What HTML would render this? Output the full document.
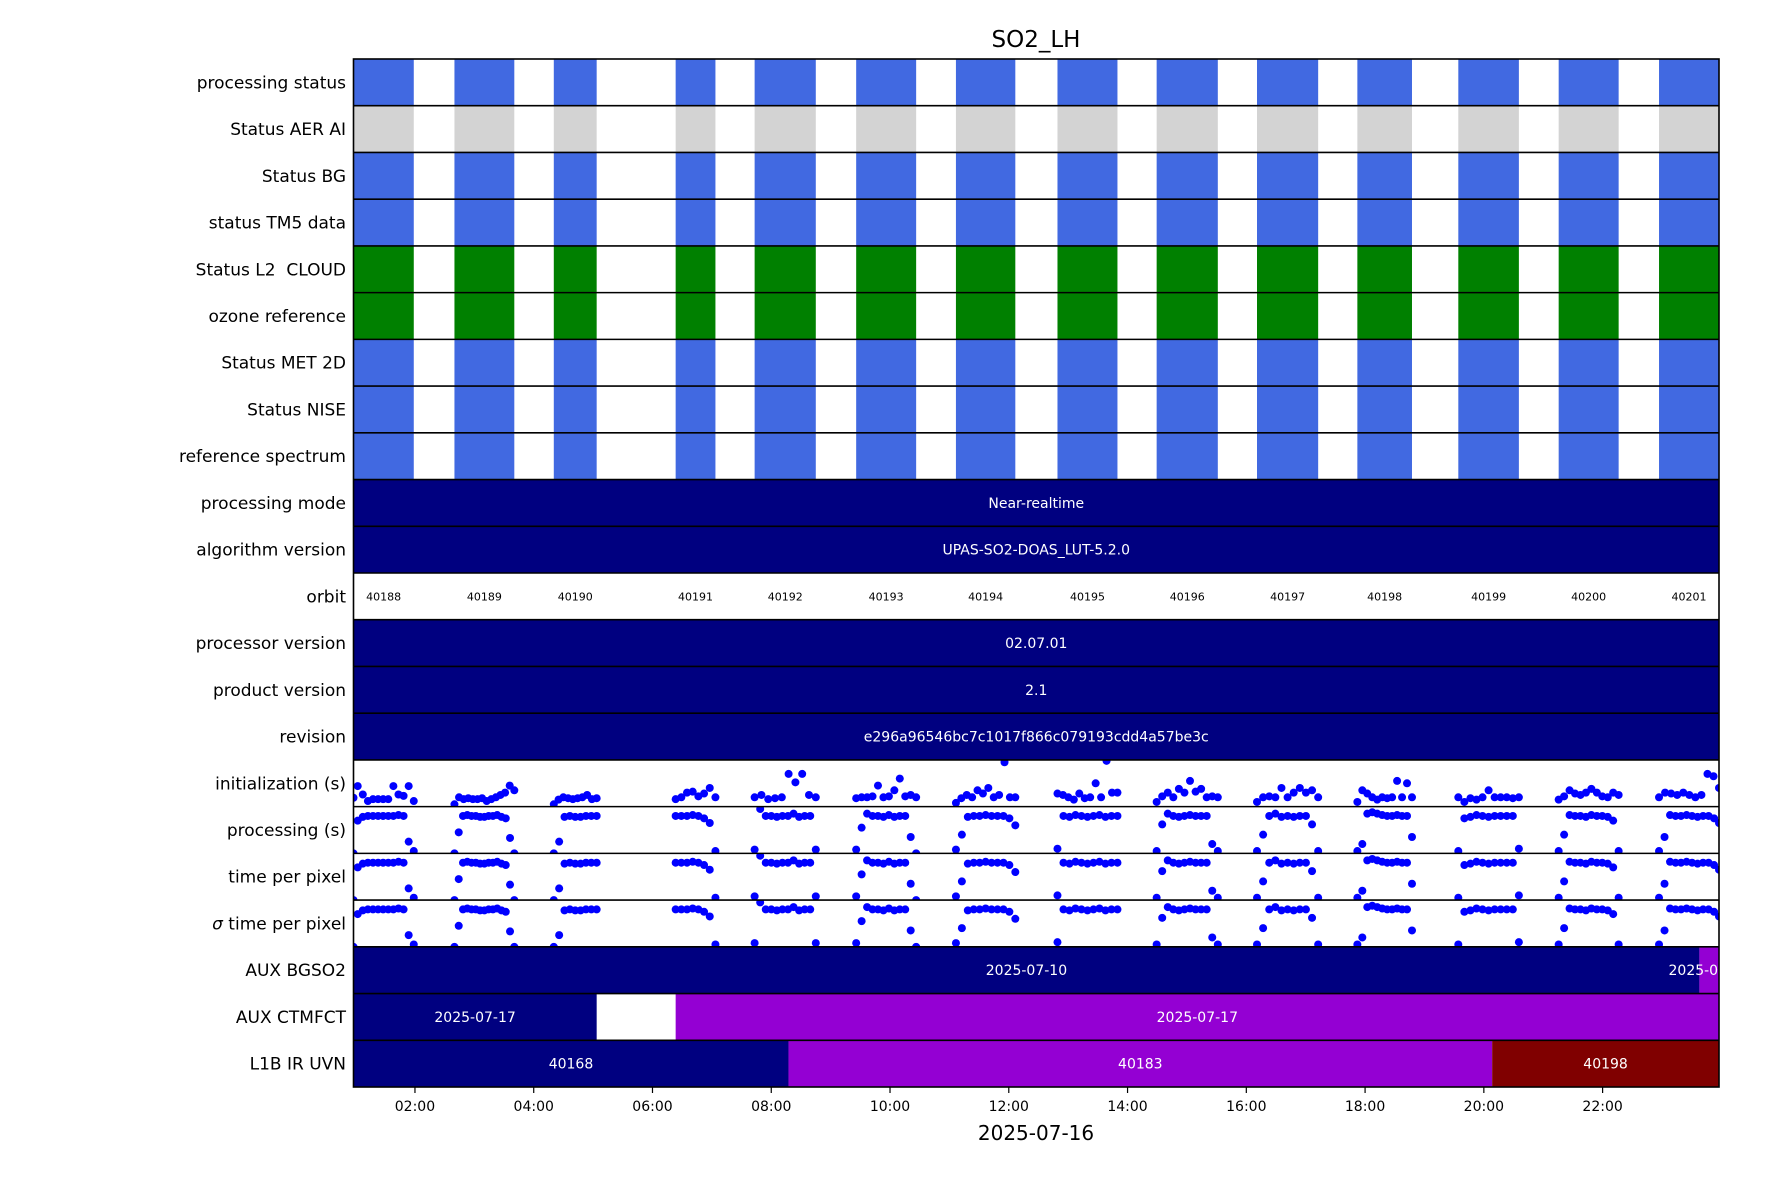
<!DOCTYPE html>
<html><head><meta charset="utf-8"><style>
body{margin:0;background:#fff}
svg{display:block;font-family:"DejaVu Sans","Liberation Sans",sans-serif}
text{white-space:pre}
</style></head><body>
<svg id="chart" width="1771" height="1181" xmlns="http://www.w3.org/2000/svg"></svg>
<script>
const rowLabels=["processing status","Status AER AI","Status BG","status TM5 data","Status L2  CLOUD","ozone reference","Status MET 2D","Status NISE","reference spectrum","processing mode","algorithm version","orbit","processor version","product version","revision","initialization (s)","processing (s)","time per pixel","σ time per pixel","AUX BGSO2","AUX CTMFCT","L1B IR UVN"];
const orbits=["40188","40189","40190","40191","40192","40193","40194","40195","40196","40197","40198","40199","40200","40201"];
const orbitStart=[0.95,2.665,4.338,6.39,7.72,9.43,11.11,12.82,14.49,16.18,17.87,19.57,21.26,22.95];
const orbitEnd=[1.98,3.673,5.06,7.06,8.75,10.44,12.11,13.83,15.52,17.21,18.79,20.59,22.27,23.97];
const statusColors=["#4169e1","#d3d3d3","#4169e1","#4169e1","#008000","#008000","#4169e1","#4169e1","#4169e1"];
const textRows=[[9,"Near-realtime"],[10,"UPAS-SO2-DOAS_LUT-5.2.0"],[12,"02.07.01"],[13,"2.1"],[14,"e296a96546bc7c1017f866c079193cdd4a57be3c"]];
const bgso2Start=[0.965,23.63];const bgso2End=[23.63,23.97];const bgso2Labels=["2025-07-10","2025-07-17"];const bgso2Colors=["#000080","#9400d3"];
const ctmStart=[0.965,6.39];const ctmEnd=[5.06,23.97];const ctmLabels=["2025-07-17","2025-07-17"];const ctmColors=["#000080","#9400d3"];
const l1bStart=[0.965,8.29,20.14];const l1bEnd=[8.29,20.14,23.97];const l1bLabels=["40168","40183","40198"];const l1bColors=["#000080","#9400d3","#800000"];
const initVals=[
[0.19,0.44,0.26,0.12,0.16,0.16,0.16,0.16,0.44,0.26,0.23,0.44,0.12],
[0.05,0.2,0.16,0.18,0.16,0.16,0.18,0.12,0.16,0.2,0.25,0.3,0.45,0.35],
[0.05,0.15,0.2,0.18,0.16,0.18,0.2,0.25,0.16,0.18],
[0.16,0.2,0.3,0.32,0.22,0.28,0.4,0.2],
[0.2,0.25,0.16,0.18,0.2,0.7,0.52,0.7,0.25,0.2],
[0.18,0.2,0.2,0.22,0.45,0.2,0.22,0.35,0.6,0.22,0.25,0.2],
[0.08,0.18,0.25,0.2,0.35,0.28,0.4,0.2,0.25,0.95,0.2,0.2],
[0.28,0.25,0.2,0.15,0.28,0.18,0.2,0.5,0.2,0.98,0.3,0.3],
[0.1,0.22,0.3,0.2,0.38,0.3,0.55,0.32,0.38,0.2,0.22,0.2],
[0.1,0.2,0.22,0.2,0.4,0.2,0.3,0.4,0.3,0.35,0.2],
[0.1,0.35,0.28,0.2,0.15,0.2,0.18,0.2,0.55,0.2,0.5,0.2],
[0.2,0.1,0.18,0.15,0.2,0.35,0.2,0.2,0.2,0.18,0.2],
[0.15,0.22,0.35,0.28,0.25,0.3,0.38,0.3,0.22,0.2,0.3,0.25],
[0.2,0.3,0.28,0.25,0.3,0.25,0.2,0.25,0.7,0.65,0.4]];
const procVals=[
[0,0.7,0.78,0.8,0.8,0.8,0.8,0.8,0.8,0.82,0.8,0.25,0.05],
[0,0.45,0.8,0.82,0.8,0.8,0.78,0.78,0.8,0.8,0.82,0.78,0.75,0.33,0],
[0,0.25,0.78,0.8,0.78,0.78,0.8,0.8,0.8],
[0.8,0.8,0.8,0.82,0.8,0.75,0.65,0.05],
[0.08,0.95,0.8,0.8,0.78,0.8,0.8,0.85,0.78,0.8,0.8,0.08],
[0.08,0.55,0.85,0.8,0.8,0.78,0.82,0.78,0.8,0.8,0.35,0],
[0.08,0.4,0.78,0.8,0.8,0.82,0.8,0.8,0.8,0.75,0.6],
[0.1,0.8,0.78,0.82,0.8,0.78,0.8,0.82,0.78,0.8,0.8],
[0.05,0.62,0.85,0.8,0.78,0.8,0.82,0.8,0.8,0.8,0.2,0.05],
[0.05,0.4,0.8,0.85,0.78,0.8,0.78,0.8,0.8,0.62,0.05],
[0.05,0.2,0.85,0.88,0.85,0.82,0.8,0.8,0.82,0.8,0.8,0.35],
[0.05,0.75,0.78,0.82,0.8,0.78,0.8,0.8,0.8,0.8,0.1],
[0.05,0.4,0.82,0.8,0.8,0.78,0.82,0.8,0.8,0.78,0.7,0.05],
[0.05,0.35,0.82,0.8,0.8,0.82,0.8,0.78,0.8,0.8,0.75,0.65]];
const tickHours=[2,4,6,8,10,12,14,16,18,20,22];
const tickLabels=["02:00","04:00","06:00","08:00","10:00","12:00","14:00","16:00","18:00","20:00","22:00"];

const L=353.5,R=1719,T=59,B=1087,NR=22,RH=(B-T)/NR,H0=0.965,H1=23.96;
const NS="http://www.w3.org/2000/svg",svg=document.getElementById('chart');
function x(h){return L+(Math.min(Math.max(h,H0),H1)-H0)/(H1-H0)*(R-L);}
function rowY(i){return T+i*RH;}
function el(t,a,p){const e=document.createElementNS(NS,t);for(const k in a)e.setAttribute(k,a[k]);(p||svg).appendChild(e);return e;}
function txt(s,a,p){const e=el('text',a,p);e.textContent=s;return e;}

const title=txt("SO2_LH",{x:1036,y:47,'text-anchor':'middle','font-size':23,fill:'#000'});



statusColors.forEach((c,r)=>{
  orbits.forEach((o,i)=>{
    const b=el('rect',{x:x(orbitStart[i]),y:rowY(r),width:x(orbitEnd[i])-x(orbitStart[i]),height:RH,fill:c});
    
    
  });
});
textRows.forEach(([r,s])=>{
  const b=el('rect',{x:L,y:rowY(r),width:R-L,height:RH,fill:'#000080'});
  
  
  const t=txt(s,{x:(L+R)/2,y:rowY(r)+RH/2+5,'text-anchor':'middle','font-size':14,fill:'#fff'});
  
  
});
orbits.forEach((o,i)=>{
  const t=txt(o,{x:(x(orbitStart[i])+x(orbitEnd[i]))/2,y:rowY(11)+RH/2+4,'text-anchor':'middle','font-size':11,fill:'#000'});
  
  
});
function segRow(r,st,en,lab,col){
  st.forEach((s,i)=>{
    const b=el('rect',{x:x(s),y:rowY(r),width:x(en[i])-x(s),height:RH,fill:col[i]});
    
    
  });
  st.forEach((s,i)=>{
    const t=txt(lab[i],{x:(x(s)+x(en[i]))/2,y:rowY(r)+RH/2+5,'text-anchor':'middle','font-size':14,fill:'#fff'});
    
    
  });
}
segRow(19,bgso2Start,bgso2End,bgso2Labels,bgso2Colors);
segRow(20,ctmStart,ctmEnd,ctmLabels,ctmColors);
segRow(21,l1bStart,l1bEnd,l1bLabels,l1bColors);

const defs=el('defs',{});
function scatter(r,vals){
  const cp=el('clipPath',{id:'cp'+r},defs);
  el('rect',{x:L,y:rowY(r),width:R-L,height:RH},cp);
  const g=el('g',{'clip-path':'url(#cp'+r+')'});
  vals.forEach((arr,i)=>{
    const n=arr.length;
    arr.forEach((v,j)=>{
      const h=orbitStart[i]+(orbitEnd[i]-orbitStart[i])*(n>1?j/(n-1):0.5);
      const c=el('circle',{cx:x(h),cy:rowY(r)+RH-v*RH,r:4,fill:'#0000ff'},g);
      
      
    });
  });
}
scatter(15,initVals);scatter(16,procVals);scatter(17,procVals);scatter(18,procVals);

for(let r=1;r<NR;r++){el('line',{x1:L,x2:R,y1:rowY(r),y2:rowY(r),stroke:'#000','stroke-width':1.6});}
const frame=el('rect',{x:L,y:T,width:R-L,height:B-T,fill:'none',stroke:'#000','stroke-width':1.6});



rowLabels.forEach((s,r)=>{
  const t=txt('',{x:346,y:rowY(r)+RH/2+6,'text-anchor':'end','font-size':17,fill:'#000'});
  if(s.startsWith('σ')){const a=el('tspan',{'font-style':'italic'},t);a.textContent='σ';const b=el('tspan',{},t);b.textContent=s.slice(1);}
  else t.textContent=s;
  
  
});
tickHours.forEach((h,i)=>{
  el('line',{x1:x(h),x2:x(h),y1:B,y2:B+6,stroke:'#000','stroke-width':1.2});
  const t=txt(tickLabels[i],{x:x(h),y:B+24,'text-anchor':'middle','font-size':14,fill:'#000'});
  
  
});
const xl=txt("2025-07-16",{x:1036,y:1140,'text-anchor':'middle','font-size':20,fill:'#000'});


</script>
</body></html>
